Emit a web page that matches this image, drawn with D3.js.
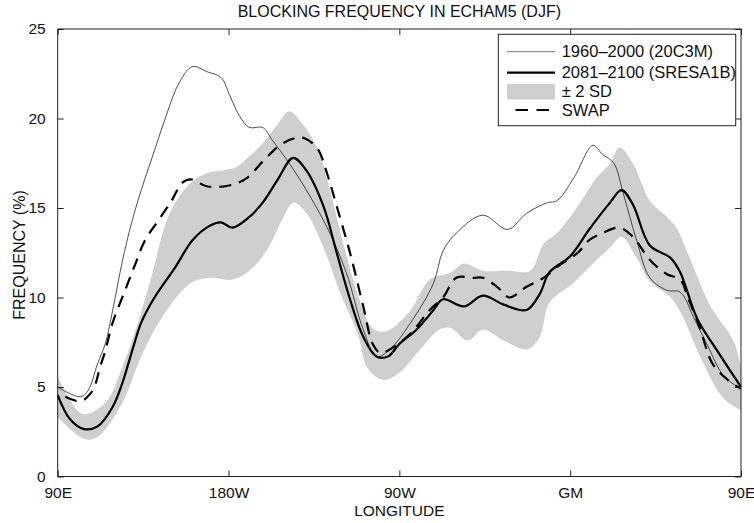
<!DOCTYPE html>
<html>
<head>
<meta charset="utf-8">
<script src="https://cdnjs.cloudflare.com/ajax/libs/d3/7.8.5/d3.min.js"></script>
<style>
  body { margin: 0; background: #fff; }
  text { font-family: "Liberation Sans", Arial, Helvetica, sans-serif; fill: #111; }
</style>
</head>
<body>
<div id="main"></div>
<script>
// longitude is counted in degrees east of 90E (0..360)
var tickLon = [0, 90, 180, 270, 360];
var tickLonLabels = ["90E", "180W", "90W", "GM", "90E"];
var tickFreq = [0, 5, 10, 15, 20, 25];

// 1960-2000 (20C3M)
var ctrlLon = [0, 12, 16, 21, 25, 29, 34, 39, 44, 50, 56, 64, 71, 79, 86, 91, 96, 101, 108, 113, 122, 131, 142, 152, 161, 168, 175, 186, 198, 203, 210, 224, 237, 247, 258, 263, 272, 282, 287, 293, 298, 305, 312, 321, 328, 335, 342, 351, 360];
var ctrlVal = [5.0, 4.45, 4.8, 6.3, 7.4, 9.3, 12.0, 14.2, 16.0, 17.9, 19.8, 22.0, 22.9, 22.6, 22.3, 21.2, 20.1, 19.5, 19.5, 18.8, 17.5, 16.0, 13.9, 11.4, 8.2, 6.7, 7.1, 8.6, 10.8, 12.6, 13.6, 14.6, 13.8, 14.7, 15.3, 15.4, 16.7, 18.5, 18.0, 17.5, 15.8, 13.2, 11.1, 10.4, 10.3, 8.9, 7.4, 5.6, 4.9];

// 2081-2100 (SRESA1B)
var futLon = [0, 6.5, 14, 21, 29, 34, 40, 44, 51, 62, 71, 80, 86, 92, 101, 108, 116, 124, 131, 140, 147, 154, 161, 168, 174, 180, 189, 198, 203, 214, 224, 235, 247, 254, 259, 270, 280, 291, 297, 303, 312, 323, 328, 337, 347, 360];
var futVal = [4.55, 3.2, 2.65, 2.8, 3.9, 5.2, 7.3, 8.6, 10.0, 11.7, 13.2, 14.0, 14.2, 13.9, 14.5, 15.3, 16.6, 17.8, 17.1, 15.1, 12.5, 9.9, 7.8, 6.7, 6.7, 7.4, 8.2, 9.3, 9.9, 9.5, 10.1, 9.6, 9.3, 10.2, 11.4, 12.3, 13.8, 15.3, 16.0, 15.2, 12.9, 12.2, 11.4, 8.8, 7.1, 5.0];

// SWAP
var swapLon = [4, 12, 17, 20, 22, 25, 29, 35.5, 41, 46, 53, 60, 65.5, 70, 79, 92, 100, 108, 117, 125, 130, 137, 142, 147, 154, 161, 166, 170, 175, 186, 196, 203, 210, 219, 224, 231.5, 238, 247, 256, 263, 274, 280, 287, 296, 303, 312, 321, 328, 332, 338, 345, 353, 360];
var swapVal = [4.45, 4.2, 4.6, 5.2, 6.0, 7.0, 8.6, 10.4, 11.9, 13.2, 14.3, 15.4, 16.4, 16.6, 16.2, 16.3, 16.7, 17.6, 18.5, 18.9, 18.9, 18.3, 16.9, 15.1, 12.5, 9.5, 7.4, 6.9, 7.1, 8.0, 9.3, 10.0, 11.1, 11.1, 11.1, 10.6, 10.0, 10.6, 11.1, 11.7, 12.5, 13.2, 13.6, 13.9, 13.4, 12.1, 11.3, 11.0, 10.0, 8.4, 6.3, 5.4, 4.9];

// +-2 SD band
var sdHiLon = [0, 13, 25, 34, 42, 49, 59, 70, 80, 87, 94.5, 101, 108, 116, 122, 129, 137, 143.5, 150, 158, 165, 170, 175, 186, 196, 207, 214, 224, 237, 249, 256, 263, 274, 284, 291, 296, 303, 312, 321, 326, 333, 344, 356, 360];
var sdHiVal = [5.6, 3.5, 4.1, 6.1, 8.5, 11.0, 14.7, 16.4, 17.0, 17.1, 17.3, 17.9, 18.6, 19.7, 20.4, 19.7, 18.3, 16.0, 13.2, 10.2, 8.4, 8.1, 8.2, 9.3, 11.0, 11.4, 11.9, 11.5, 11.5, 11.5, 13.0, 13.6, 15.1, 16.7, 17.5, 18.4, 17.5, 15.4, 14.5, 13.9, 12.2, 9.5, 7.6, 6.1];
var sdLoLon = [0, 14, 21, 34, 44, 55, 70, 80, 92, 101, 110, 119, 124, 131, 140, 149, 158, 163, 171, 180, 191, 201, 207, 216, 224, 235, 247, 254, 259, 271.5, 282, 291, 297, 305, 312, 323, 329.5, 338, 350.5, 360];
var sdLoVal = [3.3, 2.1, 2.2, 4.1, 6.7, 8.9, 10.8, 11.1, 11.0, 11.5, 12.6, 14.5, 15.3, 14.7, 12.8, 10.2, 8.0, 6.1, 5.4, 5.8, 7.1, 8.2, 8.3, 7.6, 8.2, 7.6, 7.1, 7.8, 9.7, 10.8, 11.9, 12.8, 13.4, 12.2, 10.9, 10.0, 8.9, 6.8, 4.4, 3.7];

var legendLabels = ["1960\u20132000 (20C3M)", "2081\u20132100 (SRESA1B)", "\u00b1 2 SD", "SWAP"];

var ctx = { w: 754, h: 523, left: 57.7, right: 741, top: 29, bottom: 476.5 };

var zip = function(xs, ys){ return xs.map(function(d, i){ return [d, ys[i]]; }); };

var svg = d3.select("#main").append("svg")
    .attr("width", ctx.w)
    .attr("height", ctx.h);

var x = d3.scaleLinear().domain([0, 360]).range([ctx.left, ctx.right]);
var y = d3.scaleLinear().domain([0, 25]).range([ctx.bottom, ctx.top]);

var line = d3.line()
    .x(function(d){ return x(d[0]); })
    .y(function(d){ return y(d[1]); })
    .curve(d3.curveCatmullRom.alpha(0.5));

// band: upper edge forward, lower edge back
var hi = zip(sdHiLon, sdHiVal);
var lo = zip(sdLoLon, sdLoVal).reverse();
svg.append("path")
    .attr("d", line(hi) + "L" + line(lo).slice(1) + "Z")
    .attr("fill", "#cfcfcf")
    .attr("stroke", "none");

svg.append("path")
    .attr("d", line(zip(ctrlLon, ctrlVal)))
    .attr("fill", "none")
    .attr("stroke", "#222")
    .attr("stroke-width", 0.8);

svg.append("path")
    .attr("d", line(zip(futLon, futVal)))
    .attr("fill", "none")
    .attr("stroke", "#000")
    .attr("stroke-width", 2.2);

svg.append("path")
    .attr("d", line(zip(swapLon, swapVal)))
    .attr("fill", "none")
    .attr("stroke", "#000")
    .attr("stroke-width", 2.2)
    .attr("stroke-dasharray", "12,8");

// frame with inward ticks on all four sides
svg.append("rect")
    .attr("x", ctx.left).attr("y", ctx.top)
    .attr("width", ctx.right - ctx.left).attr("height", ctx.bottom - ctx.top)
    .attr("fill", "none").attr("stroke", "#222").attr("stroke-width", 1);

var xAxis = d3.axisBottom(x).tickValues(tickLon)
    .tickFormat(function(d, i){ return tickLonLabels[i]; })
    .tickSizeInner(-6).tickSizeOuter(0).tickPadding(10);
var gx = svg.append("g").attr("transform", "translate(0," + ctx.bottom + ")").call(xAxis);

var yAxis = d3.axisLeft(y).tickValues(tickFreq)
    .tickSizeInner(-6).tickSizeOuter(0).tickPadding(12);
var gy = svg.append("g").attr("transform", "translate(" + ctx.left + ",0)").call(yAxis);

svg.append("g").attr("transform", "translate(0," + ctx.top + ")")
    .call(d3.axisTop(x).tickValues(tickLon).tickFormat("").tickSizeInner(-6).tickSizeOuter(0));
svg.append("g").attr("transform", "translate(" + ctx.right + ",0)")
    .call(d3.axisRight(y).tickValues(tickFreq).tickFormat("").tickSizeInner(-6).tickSizeOuter(0));

svg.selectAll(".domain").remove();
svg.selectAll(".tick line").attr("stroke", "#222");
gx.selectAll("text").style("font-size", "15.5px").attr("fill", "#111");
gy.selectAll("text").style("font-size", "15.5px").attr("fill", "#111");

// titles
svg.append("text")
    .attr("x", (ctx.left + ctx.right) / 2).attr("y", 17)
    .attr("text-anchor", "middle").style("font-size", "16px")
    .text("BLOCKING FREQUENCY IN ECHAM5 (DJF)");
svg.append("text")
    .attr("x", (ctx.left + ctx.right) / 2).attr("y", 516)
    .attr("text-anchor", "middle").style("font-size", "15.5px")
    .text("LONGITUDE");
svg.append("text")
    .attr("transform", "translate(25,255) rotate(-90)")
    .attr("text-anchor", "middle").style("font-size", "16px")
    .text("FREQUENCY (%)");

// legend
var lg = svg.append("g").attr("id", "legend");
lg.append("rect")
    .attr("x", 498.3).attr("y", 34.3).attr("width", 237.4).attr("height", 91.4)
    .attr("fill", "#fff").attr("stroke", "#222").attr("stroke-width", 1);
var rowY = [51.7, 72.7, 91.5, 110];
lg.append("line").attr("x1", 507).attr("x2", 555).attr("y1", rowY[0]).attr("y2", rowY[0])
    .attr("stroke", "#777").attr("stroke-width", 1);
lg.append("line").attr("x1", 507).attr("x2", 555).attr("y1", rowY[1]).attr("y2", rowY[1])
    .attr("stroke", "#000").attr("stroke-width", 2.2);
lg.append("rect").attr("x", 507).attr("y", rowY[2] - 7.5).attr("width", 48).attr("height", 15.5)
    .attr("fill", "#cfcfcf");
lg.append("line").attr("x1", 515.5).attr("x2", 555).attr("y1", rowY[3]).attr("y2", rowY[3])
    .attr("stroke", "#000").attr("stroke-width", 2.2).attr("stroke-dasharray", "12.5,8.5");
lg.selectAll("text.lab")
    .data(legendLabels)
    .enter()
    .append("text")
    .attr("class", "lab")
    .attr("x", 561.7)
    .attr("y", function(d, i){ return rowY[i] + 5.5; })
    .style("font-size", "16.5px")
    .text(function(d){ return d; });
</script>
</body>
</html>
